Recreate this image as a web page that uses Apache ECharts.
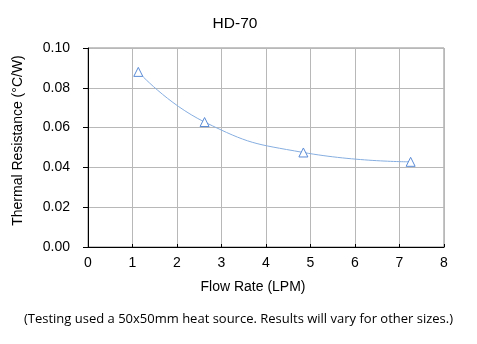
<!DOCTYPE html>
<html><head><meta charset="utf-8">
<script src="https://cdn.jsdelivr.net/npm/echarts@6/dist/echarts.min.js"></script>
<style>html,body{margin:0;padding:0;background:#fff}#c{width:477px;height:344px}</style>
</head><body><div id="c"></div>
<script>
const flowRate = [1.13, 2.62, 4.84, 7.25];
const thermalResistance = [0.088, 0.0628, 0.0475, 0.0428];
const xTicks = [0,1,2,3,4,5,6,7,8];
const yTicks = [0,0.02,0.04,0.06,0.08,0.10];
const titleText = 'HD-70';
const xName = 'Flow Rate (LPM)';
const yName = 'Thermal Resistance (°C/W)';
const note = '(Testing used a 50x50mm heat source. Results will vary for other sizes.)';

const chart = echarts.init(document.getElementById('c'));
const font = 'Liberation Sans, Arial, sans-serif';
chart.setOption({
  animation:false,
  title:{text:titleText,left:230,top:11,textAlign:'center',textStyle:{fontFamily:font,fontSize:15.5,fontWeight:'normal',color:'#000'}},
  grid:{left:88,top:48,right:33,bottom:97,show:true,borderColor:'#8a8a8a',borderWidth:1},
  xAxis:{type:'value',min:0,max:8,interval:1,name:xName,nameLocation:'middle',nameGap:33,
    nameTextStyle:{fontFamily:font,fontSize:14,color:'#000',padding:[0,26,0,0]},
    axisLine:{show:true,onZero:false,lineStyle:{color:'#000'}},
    axisTick:{show:true,inside:true,length:3,lineStyle:{color:'#000'}},
    axisLabel:{fontFamily:font,fontSize:14,color:'#000',margin:9,formatter:v=>xTicks.includes(v)?String(v):''},
    splitLine:{show:true,lineStyle:{color:'#b8b8b8'}}},
  yAxis:{type:'value',min:0,max:0.10,interval:0.02,name:yName,nameLocation:'middle',nameGap:63,
    nameTextStyle:{fontFamily:font,fontSize:14,color:'#000',padding:[0,0,0,14]},
    axisLine:{show:true,lineStyle:{color:'#000'}},
    axisTick:{show:true,inside:false,length:5,lineStyle:{color:'#000'}},
    axisLabel:{fontFamily:font,fontSize:14,color:'#000',margin:18,formatter:v=>v.toFixed(2)},
    splitLine:{show:true,lineStyle:{color:'#b8b8b8'}}},
  series:[{type:'line',data:flowRate.map((x,i)=>[x,thermalResistance[i]]),smooth:0.5,
    symbol:'triangle',symbolSize:9,showSymbol:true,
    lineStyle:{color:'#86aee0',width:1},
    itemStyle:{color:'#ffffff',borderColor:'#5a8bd6',borderWidth:1}}],
  graphic:[{type:'text',left:'center',top:313,style:{text:note,fontFamily:'Open Sans, sans-serif',fontSize:13,fill:'#000'}}]
});
</script></body></html>
